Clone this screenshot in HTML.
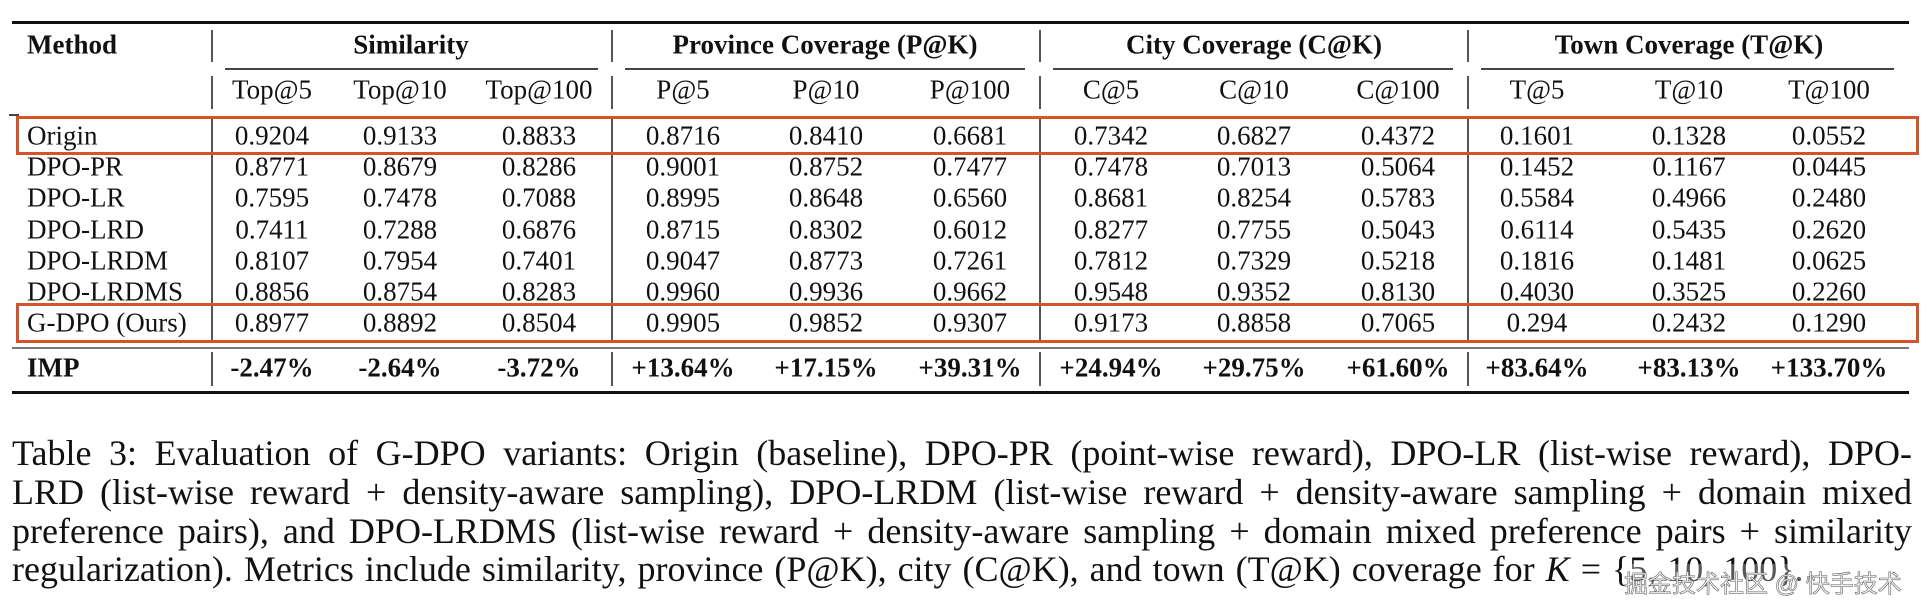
<!DOCTYPE html>
<html><head><meta charset="utf-8"><style>
body{margin:0;width:1924px;height:616px;background:#fff;position:relative;overflow:hidden;font-family:"Liberation Serif",serif;color:#111}
.t{position:absolute;font-size:27px;transform:translate(-50%,-50%);white-space:nowrap;line-height:1}
.l{position:absolute;font-size:27px;transform:translateY(-50%);white-space:nowrap;line-height:1}
.b{font-weight:bold}
.hr{position:absolute;background:#111}
.vl{position:absolute;width:1.5px;background:#555}
.box{position:absolute;border:3px solid #d5532a;box-sizing:border-box}
.cap{position:absolute;left:12px;width:1900px;font-size:36px;line-height:1;white-space:nowrap;text-align:justify;text-align-last:justify}
</style></head><body>
<div class="hr" style="left:12px;top:21px;width:1897px;height:3px"></div>
<div class="hr" style="left:225px;top:68px;width:373px;height:1.5px;background:#444"></div>
<div class="hr" style="left:625px;top:68px;width:400px;height:1.5px;background:#444"></div>
<div class="hr" style="left:1053px;top:68px;width:400px;height:1.5px;background:#444"></div>
<div class="hr" style="left:1481px;top:68px;width:413px;height:1.5px;background:#444"></div>
<div class="hr" style="left:9px;top:114px;width:10px;height:1.5px;background:#444"></div>
<div class="hr" style="left:12px;top:347px;width:1897px;height:2px;background:#777"></div>
<div class="hr" style="left:12px;top:391px;width:1897px;height:3px"></div>

<div class="vl" style="left:211px;top:30px;height:32px"></div>
<div class="vl" style="left:211px;top:76px;height:33px"></div>
<div class="vl" style="left:211px;top:118px;height:222px"></div>
<div class="vl" style="left:211px;top:352px;height:34px"></div>
<div class="vl" style="left:611px;top:30px;height:32px"></div>
<div class="vl" style="left:611px;top:76px;height:33px"></div>
<div class="vl" style="left:611px;top:118px;height:222px"></div>
<div class="vl" style="left:611px;top:352px;height:34px"></div>
<div class="vl" style="left:1039px;top:30px;height:32px"></div>
<div class="vl" style="left:1039px;top:76px;height:33px"></div>
<div class="vl" style="left:1039px;top:118px;height:222px"></div>
<div class="vl" style="left:1039px;top:352px;height:34px"></div>
<div class="vl" style="left:1467px;top:30px;height:32px"></div>
<div class="vl" style="left:1467px;top:76px;height:33px"></div>
<div class="vl" style="left:1467px;top:118px;height:222px"></div>
<div class="vl" style="left:1467px;top:352px;height:34px"></div>

<div class="box" style="left:16px;top:116px;width:1903px;height:39px"></div>
<div class="box" style="left:16px;top:303px;width:1903px;height:40px"></div>

<div class="l b" style="left:27px;top:45px">Method</div>
<div class="t b" style="left:411px;top:45px">Similarity</div>
<div class="t b" style="left:825px;top:45px">Province Coverage (P@K)</div>
<div class="t b" style="left:1254px;top:45px">City Coverage (C@K)</div>
<div class="t b" style="left:1689px;top:45px">Town Coverage (T@K)</div>

<div class="t" style="left:272px;top:90px">Top@5</div>
<div class="t" style="left:400px;top:90px">Top@10</div>
<div class="t" style="left:539px;top:90px">Top@100</div>
<div class="t" style="left:683px;top:90px">P@5</div>
<div class="t" style="left:826px;top:90px">P@10</div>
<div class="t" style="left:970px;top:90px">P@100</div>
<div class="t" style="left:1111px;top:90px">C@5</div>
<div class="t" style="left:1254px;top:90px">C@10</div>
<div class="t" style="left:1398px;top:90px">C@100</div>
<div class="t" style="left:1537px;top:90px">T@5</div>
<div class="t" style="left:1689px;top:90px">T@10</div>
<div class="t" style="left:1829px;top:90px">T@100</div>

<div id="rows"></div>
<script>
var cols=[272,400,539,683,826,970,1111,1254,1398,1537,1689,1829];
var rows=[
["Origin",136,["0.9204","0.9133","0.8833","0.8716","0.8410","0.6681","0.7342","0.6827","0.4372","0.1601","0.1328","0.0552"]],
["DPO-PR",167,["0.8771","0.8679","0.8286","0.9001","0.8752","0.7477","0.7478","0.7013","0.5064","0.1452","0.1167","0.0445"]],
["DPO-LR",198,["0.7595","0.7478","0.7088","0.8995","0.8648","0.6560","0.8681","0.8254","0.5783","0.5584","0.4966","0.2480"]],
["DPO-LRD",230,["0.7411","0.7288","0.6876","0.8715","0.8302","0.6012","0.8277","0.7755","0.5043","0.6114","0.5435","0.2620"]],
["DPO-LRDM",261,["0.8107","0.7954","0.7401","0.9047","0.8773","0.7261","0.7812","0.7329","0.5218","0.1816","0.1481","0.0625"]],
["DPO-LRDMS",292,["0.8856","0.8754","0.8283","0.9960","0.9936","0.9662","0.9548","0.9352","0.8130","0.4030","0.3525","0.2260"]],
["G-DPO (Ours)",323,["0.8977","0.8892","0.8504","0.9905","0.9852","0.9307","0.9173","0.8858","0.7065","0.294","0.2432","0.1290"]],
["IMP",368,["-2.47%","-2.64%","-3.72%","+13.64%","+17.15%","+39.31%","+24.94%","+29.75%","+61.60%","+83.64%","+83.13%","+133.70%"]]];
var h="";
rows.forEach(function(r){var bb=r[0]=="IMP"?" b":"";
h+='<div class="l'+bb+'" style="left:27px;top:'+r[1]+'px">'+r[0]+'</div>';
r[2].forEach(function(v,i){h+='<div class="t'+bb+'" style="left:'+cols[i]+'px;top:'+r[1]+'px">'+v+'</div>';});});
document.getElementById("rows").innerHTML=h;
</script>

<div class="cap" style="top:435px">Table 3: Evaluation of G-DPO variants: Origin (baseline), DPO-PR (point-wise reward), DPO-LR (list-wise reward), DPO-</div>
<div class="cap" style="top:474px">LRD (list-wise reward + density-aware sampling), DPO-LRDM (list-wise reward + density-aware sampling + domain mixed</div>
<div class="cap" style="top:513px">preference pairs), and DPO-LRDMS (list-wise reward + density-aware sampling + domain mixed preference pairs + similarity</div>
<div class="cap" style="top:551px;text-align:left;text-align-last:left;word-spacing:2px">regularization). Metrics include similarity, province (P@K), city (C@K), and town (T@K) coverage for <i>K</i> = {5, 10, 100}.</div>
<div style="position:absolute;left:1624px;top:564px;font-family:'Liberation Sans','Noto Sans CJK SC',sans-serif;font-size:24px;color:#f4f4f4;-webkit-text-stroke:0.6px #666;white-space:nowrap;background:rgba(255,255,255,0.3)">掘金技术社区 @ 快手技术</div>
</body></html>
